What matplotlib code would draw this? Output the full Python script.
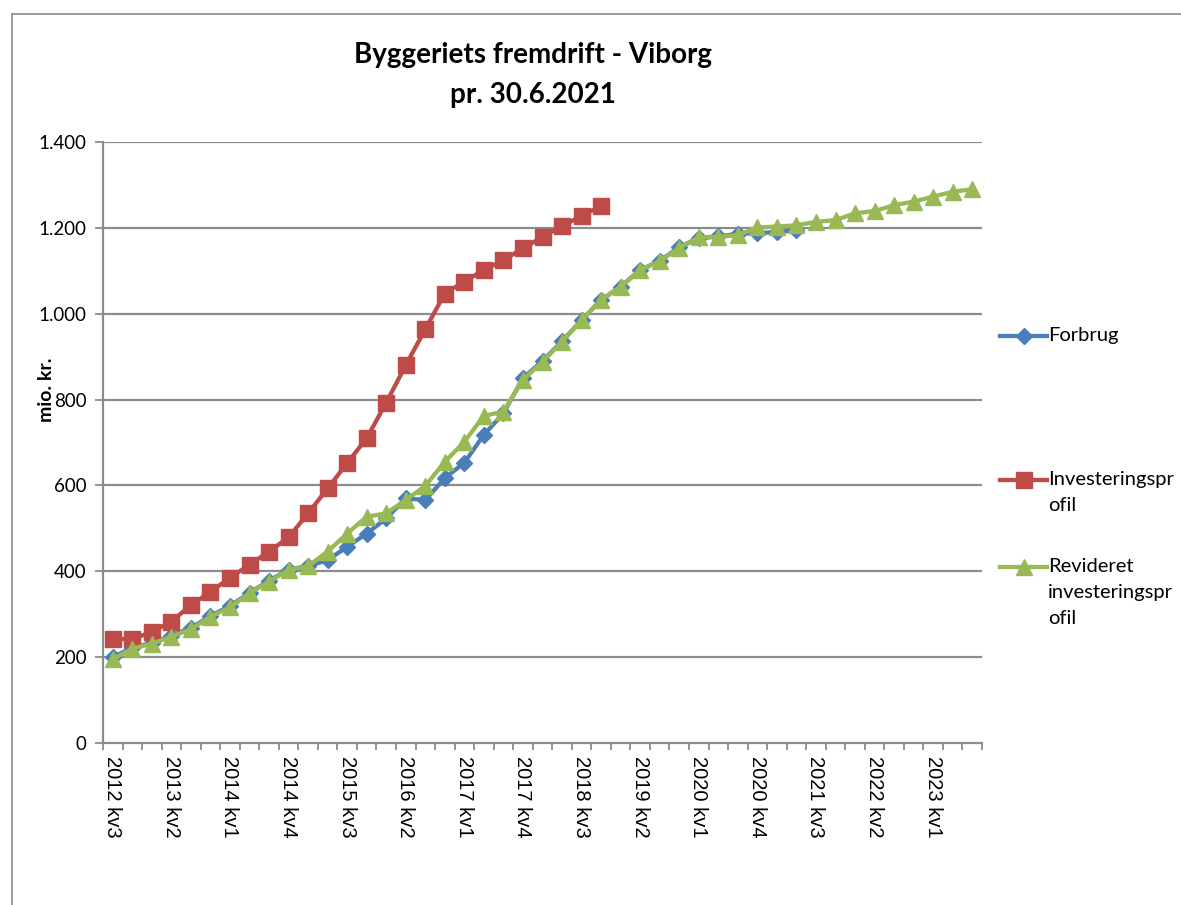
import matplotlib
matplotlib.use("Agg")
import matplotlib.pyplot as plt
from matplotlib.lines import Line2D
from matplotlib.ticker import FuncFormatter, FixedLocator
import numpy as np

# ---- data ----
years = list(range(2012, 2024))
categories = []
for yr in years:
    for q in range(1, 5):
        if (yr == 2012 and q < 3) or (yr == 2023 and q > 3):
            continue
        categories.append(f"{yr} kv{q}")

forbrug = [200, 222, 233, 250, 268, 296, 319, 350, 378, 404,
           412, 426, 457, 488, 523, 570, 566, 617, 653, 718, 768,
           850, 890, 936, 985, 1032, 1063, 1102, 1123, 1155,
           1176, 1180, 1186, 1188, 1190, 1195]

investeringsprofil = [242, 242, 259, 283, 321, 352, 385, 415, 446, 479,
                      535, 593, 652, 710, 793, 880, 964, 1047, 1075, 1102,
                      1125, 1152, 1179, 1204, 1228, 1251]

revideret = [195, 220, 231, 248, 265, 294, 316, 349, 376, 403,
             412, 446, 488, 527, 535, 566, 599, 655, 702, 762, 772,
             846, 888, 935, 985, 1032, 1063, 1102, 1122, 1154,
             1178, 1179, 1183, 1201, 1203, 1206, 1214, 1218, 1234, 1239,
             1253, 1261, 1273, 1284, 1290]

series_names = ["Forbrug", "Investeringspr\nofil", "Revideret\ninvesteringspr\nofil"]
yticks = [0, 200, 400, 600, 800, 1000, 1200, 1400]

# ---- style ----
BLUE = "#4A7EBB"
RED = "#BE4B48"
GREEN = "#98B954"
GRID = "#8C8C8C"
LW = 3.1

W, H = 1181, 905
fig = plt.figure(figsize=(W / 100, H / 100), dpi=100)
fig.patch.set_facecolor("white")

def fx(px):
    return px / W

def fy(py):
    return 1 - py / H

ax = fig.add_axes([fx(103), fy(743), fx(982) - fx(103), fy(142) - fy(743)])

x_f = np.arange(len(forbrug))
x_i = np.arange(len(investeringsprofil))
x_r = np.arange(len(revideret))

ax.plot(x_f, forbrug, color=BLUE, lw=LW, marker="D", ms=8.5, mfc=BLUE, mec=BLUE, zorder=3)
ax.plot(x_i, investeringsprofil, color=RED, lw=LW, marker="s", ms=11, mfc=RED, mec=RED, zorder=4)
ax.plot(x_r, revideret, color=GREEN, lw=LW, marker="^", ms=12, mfc=GREEN, mec=GREEN, zorder=5)

ax.set_xlim(-0.5, len(categories) - 0.5)
ax.set_ylim(0, 1400)

# y axis
ax.set_yticks(yticks)
ax.yaxis.set_major_formatter(FuncFormatter(lambda v, p: f"{int(v):,}".replace(",", ".")))
for v in yticks[1:]:
    ax.axhline(v, color=GRID, lw=1.6, zorder=1)
ax.tick_params(axis="y", direction="out", length=6, width=1.3, color=GRID,
               labelsize=13.5, pad=6)
for lab in ax.get_yticklabels():
    lab.set_family("Lato")

# x axis
label_pos = list(range(0, len(categories), 3))
ax.xaxis.set_major_locator(FixedLocator(label_pos))
ax.set_xticklabels([categories[i] for i in label_pos], rotation=-90,
                   family="Liberation Sans", fontsize=14.5)
ax.xaxis.set_minor_locator(FixedLocator(np.arange(-0.5, len(categories), 1.0)))
ax.tick_params(axis="x", which="major", length=0, pad=9)
ax.tick_params(axis="x", which="minor", direction="out", length=5, width=1.3, color=GRID)

for s in ["top", "right"]:
    ax.spines[s].set_visible(False)
for s in ["left", "bottom"]:
    ax.spines[s].set_color(GRID)
    ax.spines[s].set_linewidth(1.6)

# frame of the chart
fig.add_artist(Line2D([fx(12), 1], [fy(14), fy(14)], transform=fig.transFigure,
                      color="#8A8A8A", lw=1.2))
fig.add_artist(Line2D([fx(12), fx(12)], [fy(14), 0], transform=fig.transFigure,
                      color="#8A8A8A", lw=1.2))

# titles
fig.text(fx(533), fy(55), "Byggeriets fremdrift - Viborg", ha="center", va="center",
         fontsize=20, fontweight="bold", family="Lato")
fig.text(fx(533), fy(95), "pr. 30.6.2021", ha="center", va="center",
         fontsize=20, fontweight="bold", family="Lato")
fig.text(fx(46), fy(390), "mio. kr.", ha="center", va="center", rotation=90,
         fontsize=14, fontweight="bold", family="Lato")

# legend (manual)
leg_y = [336, 480, 567]
leg_style = [(BLUE, "D", 8.5), (RED, "s", 11), (GREEN, "^", 12)]
for name, yy, (c, m, ms) in zip(series_names, leg_y, leg_style):
    fig.add_artist(Line2D([fx(1000), fx(1047)], [fy(yy), fy(yy)], transform=fig.transFigure,
                          color=c, lw=LW))
    fig.add_artist(Line2D([fx(1023.5)], [fy(yy)], transform=fig.transFigure,
                          color=c, marker=m, ms=ms, mfc=c, mec=c, lw=0))
    fig.text(fx(1048), fy(yy - 9), name, ha="left", va="top", fontsize=14.5,
             family="Lato", linespacing=1.65)

fig.savefig("out.png", dpi=100, facecolor="white")
